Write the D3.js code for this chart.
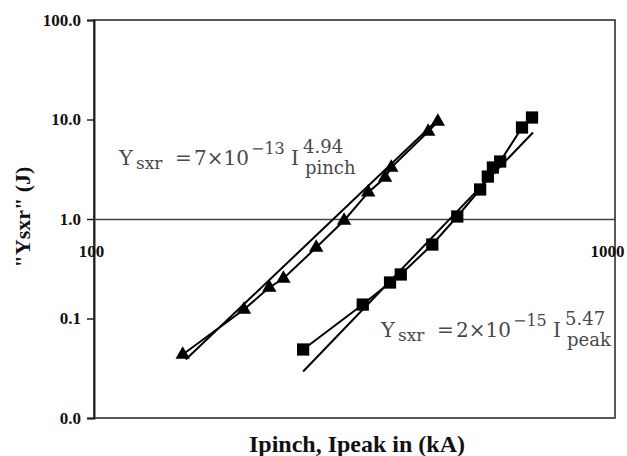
<!DOCTYPE html>
<html>
<head>
<meta charset="utf-8">
<script src="https://cdn.jsdelivr.net/npm/d3@7"></script>
<style>
  body { margin: 0; background: #fff; }
  svg { display: block; }
  .axis text { font-family: "Liberation Serif", "Times New Roman", serif; font-weight: bold; font-size: 17px; fill: #111; }
  .eq { font-family: "DejaVu Serif", serif; fill: #484848; }
  .title { font-family: "Liberation Serif", "Times New Roman", serif; font-weight: bold; fill: #111; }
</style>
</head>
<body>
<svg id="chart" width="627" height="456"></svg>
<script>
// Ipinch (kA) vs Ysxr (J) -- triangles
var pinchI = [148, 194, 217, 231, 267, 302, 336, 362, 372, 438, 457];
var pinchY = [0.0435, 0.123, 0.205, 0.252, 0.517, 0.966, 1.85, 2.61, 3.29, 7.57, 9.55];

// Ipeak (kA) vs Ysxr (J) -- squares
var peakI = [252, 328, 370, 388, 446, 498, 551, 570, 583, 602, 663, 693];
var peakY = [0.0488, 0.138, 0.230, 0.277, 0.554, 1.06, 1.98, 2.67, 3.29, 3.78, 8.31, 10.47];

// power-law fit lines, end points
var pinchFitI = [150, 451];
var pinchFitY = [0.0387, 9.33];
var peakFitI = [252, 696];
var peakFitY = [0.0293, 7.40];

var xTicks = [100, 1000];
var yTicks = [0.01, 0.1, 1, 10, 100];
var yTickLabels = ['0.0', '0.1', '1.0', '10.0', '100.0'];

var svg = d3.select('#chart'),
	margin = {top: 20, right: 12, bottom: 38, left: 94},
	width = 627 - margin.left - margin.right,
	height = 456 - margin.top - margin.bottom;

var g = svg.append('g')
	.attr('transform', 'translate(' + margin.left + ',' + margin.top + ')');

var x = d3.scaleLog().domain([100, 1000]).range([0, width]);
var y = d3.scaleLog().domain([0.01, 100]).range([height, 0]);

// plot frame
g.append('rect')
	.attr('width', width)
	.attr('height', height)
	.attr('fill', 'none')
	.attr('stroke', '#222')
	.attr('stroke-width', 1.5);

// Y axis
var yAxis = g.append('g')
	.attr('class', 'axis axis-y')
	.call(d3.axisLeft(y).tickValues(yTicks).tickSizeOuter(0).tickSize(7).tickPadding(6)
		.tickFormat(function(d, i) { return yTickLabels[i]; }));
yAxis.select('.domain').attr('stroke', '#222').attr('stroke-width', 2);
yAxis.selectAll('.tick line').attr('stroke', '#222').attr('stroke-width', 1.5);

// X axis crosses at Y = 1
var xAxis = g.append('g')
	.attr('class', 'axis axis-x')
	.attr('transform', 'translate(0,' + y(1) + ')')
	.call(d3.axisBottom(x).tickValues(xTicks).tickSize(0).tickSizeOuter(0).tickPadding(26)
		.tickFormat(d3.format('d')));
xAxis.select('.domain').attr('stroke', '#444').attr('stroke-width', 1.5);
xAxis.selectAll('.tick text').attr('dx', function(d, i) { return i ? -8 : -3; });

var line = d3.line()
	.x(function(d) { return x(d[0]); })
	.y(function(d) { return y(d[1]); });

function zip(a, b) { return a.map(function(v, i) { return [v, b[i]]; }); }

var series = [
	{pts: zip(pinchI, pinchY), fit: zip(pinchFitI, pinchFitY), sym: d3.symbolTriangle, size: 90},
	{pts: zip(peakI, peakY), fit: zip(peakFitI, peakFitY), sym: d3.symbolSquare, size: 150}
];

series.forEach(function(s) {
	// trend line
	g.append('path')
		.attr('d', line(s.fit))
		.attr('fill', 'none')
		.attr('stroke', '#000')
		.attr('stroke-width', 2);
	// data line
	g.append('path')
		.attr('d', line(s.pts))
		.attr('fill', 'none')
		.attr('stroke', '#000')
		.attr('stroke-width', 2);
	// markers
	g.selectAll(null)
		.data(s.pts)
		.enter().append('path')
		.attr('d', d3.symbol().type(s.sym).size(s.size))
		.attr('transform', function(d) { return 'translate(' + x(d[0]) + ',' + y(d[1]) + ')'; })
		.attr('fill', '#000');
});

// equations: pieces placed relative to the start of "Y"
function equation(px, py, coef, exp, pow, sub) {
	var t = svg.append('text').attr('class', 'eq');
	var parts = [
		{s: 'Y', dx: -1, dy: 0, f: 21},
		{s: 'sxr', dx: 16, dy: 4, f: 17},
		{s: '=', dx: 55, dy: 0, f: 20},
		{s: coef + '\u00d710', dx: 74, dy: 0, f: 20},
		{s: exp, dx: 131, dy: -11, f: 16},
		{s: 'I', dx: 171, dy: 0, f: 20},
		{s: pow, dx: 183, dy: -12, f: 18},
		{s: sub, dx: 185, dy: 9, f: 18}
	];
	parts.forEach(function(p) {
		t.append('tspan')
			.attr('x', px + p.dx)
			.attr('y', py + p.dy)
			.style('font-size', p.f + 'px')
			.text(p.s);
	});
}
equation(120, 165, '7', '\u221213', '4.94', 'pinch');
equation(382, 337, '2', '\u221215', '5.47', 'peak');

// axis titles
svg.append('text')
	.attr('class', 'title')
	.attr('x', 357)
	.attr('y', 452)
	.attr('text-anchor', 'middle')
	.style('font-size', '24px')
	.text('Ipinch, Ipeak in (kA)');

svg.append('text')
	.attr('class', 'title')
	.attr('transform', 'translate(30,217) rotate(-90)')
	.attr('text-anchor', 'middle')
	.style('font-size', '22px')
	.text('"Ysxr"  (J)');
</script>
</body>
</html>
